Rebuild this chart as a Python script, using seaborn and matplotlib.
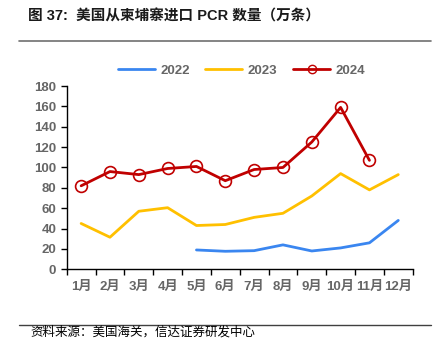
import numpy as np
import pandas as pd
import seaborn as sns
from matplotlib import pyplot as plt
from matplotlib.lines import Line2D

months = ['1月', '2月', '3月', '4月', '5月', '6月', '7月', '8月', '9月', '10月', '11月', '12月']
y2022 = [np.nan, np.nan, np.nan, np.nan, 19, 17.7, 18.3, 24, 18, 21, 26, 48]
y2023 = [45, 31.5, 57, 60.5, 43, 44, 51, 55, 72, 94, 78, 93]
y2024 = [82, 96, 93, 99, 101, 87, 98, 100, 125, 159, 107, np.nan]

sns.set_style('ticks')
plt.rcParams['font.family'] = ['Liberation Sans', 'Noto Sans CJK SC', 'DejaVu Sans']

df = pd.DataFrame({'x': np.arange(12), '2022': y2022, '2023': y2023, '2024': y2024})

fig = plt.figure(figsize=(4.43, 3.55), dpi=100)
ax = fig.add_axes([0.1506, 0.2414, 0.781, 0.5163])

blue, yellow, red = '#3A86F0', '#FFC000', '#C00000'
sns.lineplot(data=df, x='x', y='2022', ax=ax, color=blue, linewidth=2)
sns.lineplot(data=df, x='x', y='2023', ax=ax, color=yellow, linewidth=2)
sns.lineplot(data=df, x='x', y='2024', ax=ax, color=red, linewidth=2,
             marker='o', markersize=8.5, markerfacecolor='none',
             markeredgecolor=red, markeredgewidth=1.2)

ax.set_xlim(-0.5, 11.5)
ax.set_ylim(0, 180)
ax.set_yticks(range(0, 181, 20))
ax.set_xticks(np.arange(-0.5, 12, 1))
ax.set_xticklabels([])
ax.set_xticks(np.arange(12), minor=True)
ax.set_xticklabels(months, minor=True)
ax.tick_params(axis='x', which='minor', length=0, pad=8)
ax.tick_params(axis='both', which='major', length=4, width=1, color='black')
for lab in ax.get_xticklabels(minor=True) + ax.get_yticklabels():
    lab.set_color('#666666')
    lab.set_fontsize(9.5)
    lab.set_fontweight('bold')
ax.set_xlabel('')
ax.set_ylabel('')
sns.despine(ax=ax)
for s in ['left', 'bottom']:
    ax.spines[s].set_linewidth(1)
    ax.spines[s].set_color('black')

handles = [Line2D([], [], color=blue, lw=2),
           Line2D([], [], color=yellow, lw=2),
           Line2D([], [], color=red, lw=2, marker='o', markersize=6,
                  markerfacecolor='none', markeredgecolor=red)]
leg = fig.legend(handles, ['2022', '2023', '2024'], loc='center', ncol=3,
                 bbox_to_anchor=(0.545, 0.8), frameon=False, handlelength=2.8,
                 columnspacing=1.2, handletextpad=0.4,
                 prop={'size': 9.5, 'weight': 'bold'})
for t in leg.get_texts():
    t.set_color('#666666')

fig.text(0.063, 0.955, '图 37:  美国从柬埔寨进口 PCR 数量（万条）', fontsize=10.5,
         fontweight='bold', color='#1a1a1a', va='center')
fig.add_artist(Line2D([0.043, 0.972], [0.884, 0.884], color='#707070', lw=1.2))
fig.add_artist(Line2D([0.043, 0.972], [0.085, 0.085], color='#404040', lw=1))
fig.text(0.068, 0.064, '资料来源：美国海关，信达证券研发中心', fontsize=9,
         color='black', va='center', style='italic')

fig.savefig('out.png', dpi=100)
